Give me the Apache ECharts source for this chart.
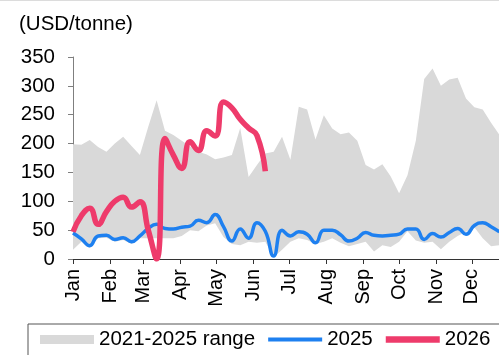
<!DOCTYPE html>
<html>
<head>
<meta charset="utf-8">
<script src="https://cdn.jsdelivr.net/npm/echarts@6/dist/echarts.min.js"></script>
<style>
  html, body { margin: 0; padding: 0; background: #ffffff; }
  #chart { width: 499px; height: 355px; }
</style>
</head>
<body>
<div id="chart"></div>
<script>
// Month ticks on the x axis (day of year where each month starts)
const monthNames = ['Jan', 'Feb', 'Mar', 'Apr', 'May', 'Jun', 'Jul', 'Aug', 'Sep', 'Oct', 'Nov', 'Dec'];
const monthStartDays = [0, 31, 59, 90, 120, 151, 181, 212, 243, 273, 304, 334];

// Y axis scale (USD/tonne)
const yMin = 0;
const yMax = 350;
const yStep = 50;

// Weekly observations: day of year of each week
const weekDays = [0, 7, 14, 21, 28, 35, 42, 49, 56, 63, 70, 77, 84, 91, 98, 105, 112, 119, 126, 133,
  140, 147, 154, 161, 168, 175, 182, 189, 196, 203, 210, 217, 224, 231, 238, 245, 252, 259, 266, 273,
  280, 287, 294, 301, 308, 315, 322, 329, 336, 343, 350, 357];

// 2021-2025 weekly range
const rangeMax = [199, 198, 206, 194, 186, 200, 212, 196, 180, 229, 275, 222, 215, 205, 195, 186, 181, 173, 176, 180,
  227, 142, 163, 183, 186, 212, 172, 264, 259, 207, 249, 226, 216, 219, 205, 163, 155, 164, 143, 114,
  145, 205, 312, 330, 300, 311, 314, 278, 263, 259, 236, 215];
const rangeMin = [16, 30, 20, 36, 37, 30, 33, 26, 36, 36, 36, 36, 36, 40, 50, 48, 58, 62, 38, 26,
  24, 30, 28, 30, 3, 16, 30, 36, 33, 26, 30, 36, 28, 22, 26, 30, 13, 24, 21, 30,
  48, 32, 28, 30, 17, 30, 40, 47, 55, 36, 22, 24];

// 2025 weekly prices
const price2025 = [45, 35, 23, 40, 41, 34, 37, 30, 40, 53, 60, 53, 52, 55, 57, 67, 63, 77, 56, 31,
  52, 36, 63, 48, 5, 50, 40, 47, 43, 28, 50, 50, 42, 31, 36, 46, 41, 40, 41, 43,
  52, 52, 34, 44, 38, 46, 53, 43, 58, 63, 56, 47];

// 2026 weekly prices (year to date)
const price2026 = [47, 75, 88, 60, 82, 100, 107, 90, 99, 50, 0, 209, 180, 157, 203, 188, 222, 213, 272, 262,
  242, 227, 214, 152];

const pair = (vals) => vals.map((v, i) => [weekDays[i], v]);

const FONT = "'Liberation Sans', Arial, sans-serif";
const GREY = '#d9d9d9';
const BLUE = '#1e80f0';
const RED = '#ee3b6b';

const chart = echarts.init(document.getElementById('chart'), null, { renderer: 'canvas' });

chart.setOption({
  backgroundColor: '#ffffff',
  animation: false,
  title: {
    text: '(USD/tonne)',
    left: 14,
    top: 9,
    textStyle: { fontFamily: FONT, fontSize: 20.5, fontWeight: 'normal', color: '#000000' }
  },
  graphic: [{
    type: 'line',
    shape: { x1: 0, y1: 0.5, x2: 499, y2: 0.5 },
    style: { stroke: '#dcdcdc', lineWidth: 1 },
    silent: true
  }],
  legend: {
    left: 28,
    top: 324,
    width: 480,
    orient: 'horizontal',
    padding: [5, 15, 12, 12],
    itemGap: 13,
    itemWidth: 54,
    itemHeight: 9,
    borderColor: '#555555',
    borderWidth: 1,
    borderRadius: 0,
    selectedMode: false,
    textStyle: { fontFamily: FONT, fontSize: 20.5, color: '#000000' },
    data: [
      { name: '2021-2025 range', icon: 'rect', itemStyle: { color: GREY } },
      { name: '2025', icon: 'path://M0,0H54V4H0Z', itemStyle: { color: BLUE } },
      { name: '2026', icon: 'path://M0,0H60V7H0Z', itemStyle: { color: RED } }
    ]
  },
  // the plot runs a little past the right edge of the canvas (full year)
  grid: { left: 73, width: 436, top: 57, bottom: 96, containLabel: false, outerBoundsMode: 'none' },
  xAxis: {
    type: 'value',
    min: 0,
    max: 365,
    splitLine: { show: false },
    axisLine: { show: true, lineStyle: { color: '#333333', width: 1 } },
    axisTick: {
      show: true, length: 5, inside: false,
      customValues: monthStartDays,
      lineStyle: { color: '#333333', width: 1 }
    },
    axisLabel: {
      show: true,
      rotate: 90,
      margin: 10,
      customValues: monthStartDays,
      formatter: (v) => monthNames[monthStartDays.indexOf(v)] || '',
      fontFamily: FONT,
      fontSize: 20,
      color: '#000000'
    }
  },
  yAxis: {
    type: 'value',
    min: yMin,
    max: yMax,
    interval: yStep,
    splitLine: { show: false },
    axisLine: { show: true, lineStyle: { color: '#7f7f7f', width: 1 } },
    axisTick: { show: true, length: 5, lineStyle: { color: '#7f7f7f', width: 1 } },
    axisLabel: {
      margin: 18,
      fontFamily: FONT,
      fontSize: 20.5,
      color: '#000000'
    }
  },
  series: [
    {
      // upper edge of the 2021-2025 band, filled down to the axis
      name: '2021-2025 range',
      type: 'line',
      data: pair(rangeMax),
      symbol: 'none',
      lineStyle: { width: 0, opacity: 0 },
      areaStyle: { color: GREY, opacity: 1 },
      itemStyle: { color: GREY },
      silent: true,
      z: 1
    },
    {
      // lower edge of the band: white fill clears the area beneath it
      name: 'rangeLow',
      type: 'line',
      data: pair(rangeMin),
      symbol: 'none',
      lineStyle: { width: 0, opacity: 0 },
      areaStyle: { color: '#ffffff', opacity: 1 },
      silent: true,
      z: 2
    },
    {
      name: '2025',
      type: 'line',
      data: pair(price2025),
      symbol: 'none',
      smooth: 0.5,
      lineStyle: { color: BLUE, width: 3.5 },
      itemStyle: { color: BLUE },
      z: 3
    },
    {
      name: '2026',
      type: 'line',
      data: pair(price2026),
      symbol: 'none',
      smooth: 0.5,
      lineStyle: { color: RED, width: 5.5 },
      itemStyle: { color: RED },
      z: 4
    }
  ]
});
</script>
</body>
</html>
